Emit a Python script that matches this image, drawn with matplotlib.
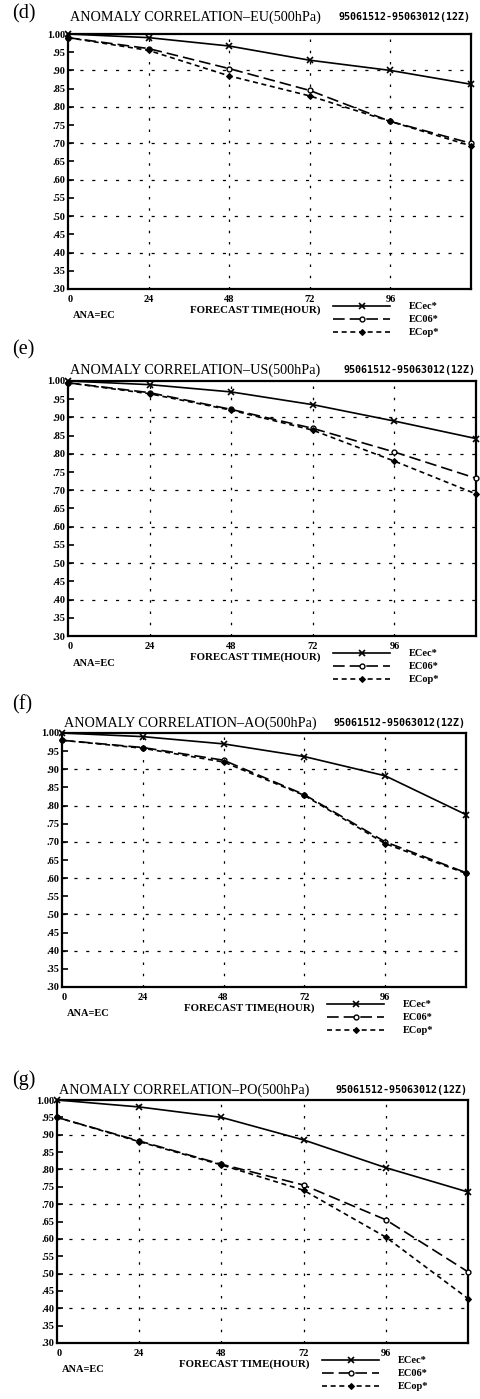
import matplotlib
matplotlib.use("Agg")
import matplotlib.pyplot as plt

W, H = 481, 1399

hours = [0, 24, 48, 72, 96, 120]
xtick_vals = [0, 24, 48, 72, 96]
ytick_vals = [1.00, 0.95, 0.90, 0.85, 0.80, 0.75, 0.70, 0.65, 0.60, 0.55, 0.50, 0.45, 0.40, 0.35, 0.30]
ytick_labels = ["1.00", ".95", ".90", ".85", ".80", ".75", ".70", ".65", ".60", ".55", ".50", ".45", ".40", ".35", ".30"]
series_names = ["ECec*", "EC06*", "ECop*"]

panel_letters = ["(d)", "(e)", "(f)", "(g)"]
regions = ["EU", "US", "AO", "PO"]
period = "95061512-95063012(12Z)"

eu_ecec = [1.00, 0.99, 0.967, 0.928, 0.900, 0.862]
eu_ec06 = [0.990, 0.960, 0.905, 0.845, 0.760, 0.700]
eu_ecop = [0.990, 0.955, 0.885, 0.830, 0.760, 0.693]

us_ecec = [1.00, 0.990, 0.970, 0.935, 0.890, 0.842]
us_ec06 = [0.995, 0.968, 0.922, 0.870, 0.805, 0.733]
us_ecop = [0.995, 0.965, 0.920, 0.865, 0.780, 0.690]

ao_ecec = [1.00, 0.990, 0.970, 0.935, 0.882, 0.775]
ao_ec06 = [0.980, 0.960, 0.925, 0.830, 0.700, 0.615]
ao_ecop = [0.980, 0.958, 0.920, 0.828, 0.695, 0.613]

po_ecec = [1.00, 0.980, 0.950, 0.885, 0.805, 0.735]
po_ec06 = [0.950, 0.882, 0.815, 0.755, 0.655, 0.505]
po_ecop = [0.950, 0.880, 0.813, 0.740, 0.605, 0.428]

panel_data = [
    (eu_ecec, eu_ec06, eu_ecop),
    (us_ecec, us_ec06, us_ecop),
    (ao_ecec, ao_ec06, ao_ecop),
    (po_ecec, po_ec06, po_ecop),
]

# layout in pixels: left, right, top, bottom of axes
boxes = [
    (68, 471, 34, 289),
    (68, 476, 381, 636),
    (62, 466, 733, 987),
    (57, 468, 1100, 1343),
]
letter_y = [14, 350, 705, 1080]
title_y = [17, 370, 723, 1090]

styles = [
    dict(linestyle="-", marker="x", markersize=5, mew=1.2),
    dict(linestyle=(0, (7, 3)), marker="o", markersize=3.5, mfc="white", mew=1.0),
    dict(linestyle=(0, (3, 2.2)), marker="D", markersize=3, mfc="black", mew=0.8),
]

serif = ["Liberation Serif", "DejaVu Serif"]
mono = ["DejaVu Sans Mono"]

fig = plt.figure(figsize=(W / 100, H / 100), dpi=100)
fig.patch.set_facecolor("white")


def fx(px):
    return px / W


def fy(py):
    return 1 - py / H


for i in range(4):
    l, r, t, b = boxes[i]
    ax = fig.add_axes([fx(l), fy(b), fx(r - l), (b - t) / H])
    ax.set_xlim(0, 120)
    ax.set_ylim(0.30, 1.00)
    for v in [24, 48, 72, 96]:
        ax.axvline(v, color="black", lw=0.9, linestyle=(0, (2, 7)), zorder=1)
    for v in [0.90, 0.80, 0.70, 0.60, 0.50, 0.40]:
        ax.axhline(v, color="black", lw=0.9, linestyle=(0, (2.5, 7)), zorder=1)
    handles = []
    for s, vals in enumerate(panel_data[i]):
        h, = ax.plot(hours, vals, color="black", lw=1.2, clip_on=False,
                     zorder=3, label=series_names[s], **styles[s])
        handles.append(h)
    for sp in ax.spines.values():
        sp.set_linewidth(1.6)
        sp.set_color("black")
    ax.set_yticks(ytick_vals)
    ax.set_yticklabels(ytick_labels, fontfamily=serif, fontweight="bold", fontsize=7.5)
    ax.tick_params(axis="y", direction="in", length=4, width=1.2, pad=2)
    ax.set_xticks(xtick_vals)
    ax.set_xticklabels([str(v) for v in xtick_vals], fontfamily=serif,
                       fontweight="bold", fontsize=7.5)
    ax.tick_params(axis="x", length=0, pad=4)
    for lab in ax.get_xticklabels()[:1]:
        lab.set_horizontalalignment("left")

    fig.text(fx(12), fy(letter_y[i]), panel_letters[i], fontfamily=serif,
             fontsize=14.5, va="center", ha="left")
    fig.text(fx(l + 2), fy(title_y[i]),
             "ANOMALY CORRELATION\u2013" + regions[i] + "(500hPa)",
             fontfamily=serif, fontsize=10.2, va="center", ha="left")
    fig.text(fx(r), fy(title_y[i]), period, fontfamily=mono, fontsize=7.2,
             fontweight="bold", va="center", ha="right")
    fig.text(fx(l + 5), fy(b + 27), "ANA=EC", fontfamily=serif,
             fontsize=7.5, fontweight="bold", va="center", ha="left")
    fig.text(fx(l + 187), fy(b + 21), "FORECAST TIME(HOUR)", fontfamily=serif,
             fontsize=7.8, fontweight="bold", va="center", ha="center")
    ax.legend(handles=handles, loc="upper left",
              bbox_to_anchor=((265) / (r - l), -13 / (b - t)),
              frameon=False, handlelength=5.5, handletextpad=1.8,
              labelspacing=0.35, borderaxespad=0, borderpad=0,
              prop=dict(family=serif, size=7.5, weight="bold"))

fig.savefig("out.png", dpi=100, facecolor="white")
